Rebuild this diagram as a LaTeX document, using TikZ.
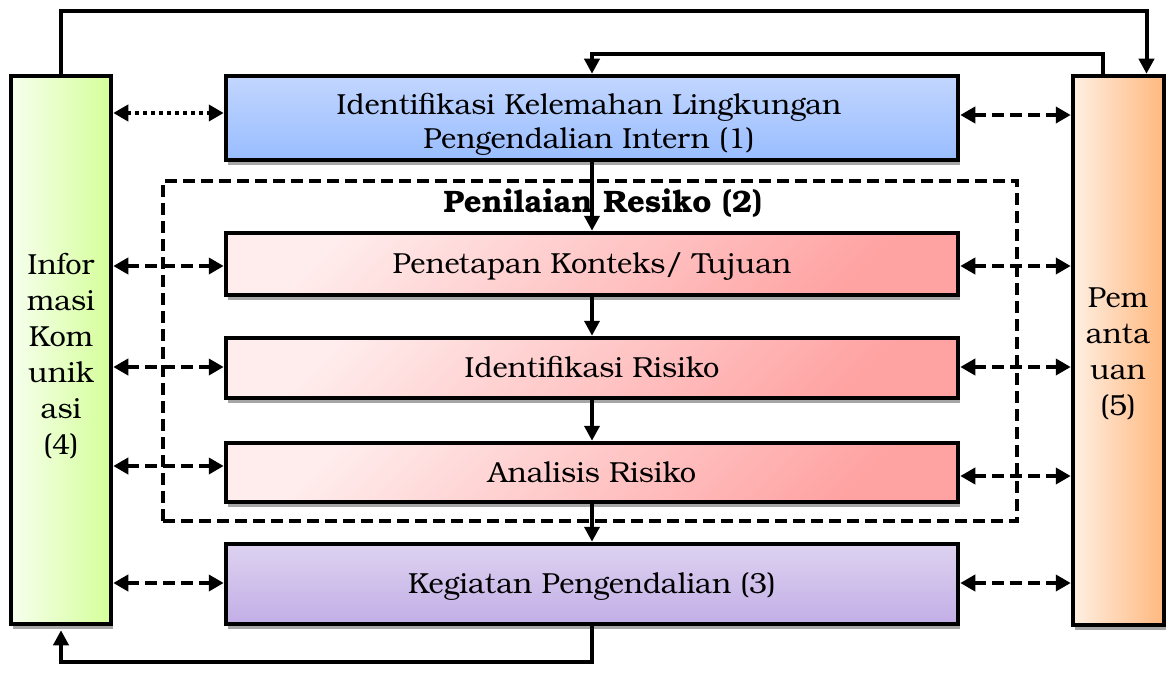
\documentclass[tikz,border=0pt]{standalone}
\usepackage{fontspec}
\setmainfont{TeX Gyre Bonum}
\usetikzlibrary{arrows.meta,shadows,calc}
\definecolor{blueT}{HTML}{C2D6FF}
\definecolor{blueB}{HTML}{99BDFF}
\definecolor{pinkL}{HTML}{FFECEC}
\definecolor{pinkD}{HTML}{FFA2A2}
\definecolor{purT}{HTML}{DDD2F0}
\definecolor{purB}{HTML}{C2AEE6}
\definecolor{grnL}{HTML}{F7FFEE}
\definecolor{grnR}{HTML}{D4FF99}
\definecolor{orL}{HTML}{FFEFE2}
\definecolor{orR}{HTML}{FFB87E}
\begin{document}
\begin{tikzpicture}[x=1pt,y=-1pt,
  shadowed/.style={drop shadow={shadow xshift=1.5pt,shadow yshift=-5pt,fill=black!35,opacity=1}},
  box/.style={shadowed,draw=black,line width=4.5pt,inner sep=0pt,minimum width=732pt,
    font=\fontsize{29}{34}\selectfont,text height=19.5pt,text depth=0pt},
  sidebox/.style={shadowed,draw=black,line width=4.5pt,inner sep=0pt},
  sidetext/.style={inner sep=0pt,align=center,font=\fontsize{29}{36}\selectfont},
  bluebox/.style={top color=blueT,bottom color=blueB},
  pinkbox/.style={top color=pinkL,bottom color=pinkD,shading angle=45},
  purbox/.style={top color=purT,bottom color=purB},
  grnbox/.style={left color=grnL,right color=grnR},
  orbox/.style={left color=orL,right color=orR},
  arr/.style={line width=4pt,-{Triangle[length=15pt,width=15pt]}},
  biarr/.style={line width=4pt,dash pattern=on 12pt off 6pt,
    {Triangle[length=15pt,width=16pt]}-{Triangle[length=15pt,width=16pt]}},
  dotarr/.style={line width=4pt,dash pattern=on 4pt off 4pt,
    {Triangle[length=15pt,width=16pt]}-{Triangle[length=15pt,width=16pt]}},
  dashframe/.style={draw=black,line width=3.5pt,dash pattern=on 12pt off 6pt,inner sep=0pt}
]
\useasboundingbox (0,0) rectangle (1167,690);
\fill[white] (0,0) rectangle (1167,690);

% dashed frame and its title
\node[dashframe,minimum width=854pt,minimum height=340pt] (D) at (590,351) {};
\node[inner sep=0pt,font=\bfseries\fontsize{31}{36}\selectfont] (T) at (603,203) {Penilaian Resiko (2)};

% central boxes
\node[box,bluebox,minimum height=84pt] (B) at (592,118) {};
\node[inner sep=0pt,align=center,font=\fontsize{29}{34}\selectfont] (Bt) at (589,124)
  {Identifikasi Kelemahan Lingkungan\\Pengendalian Intern (1)};
\node[box,pinkbox,minimum height=62pt] (P1) at (592,264) {Penetapan Konteks/ Tujuan};
\node[box,pinkbox,minimum height=60pt] (P2) at (592,368) {Identifikasi Risiko};
\node[box,pinkbox,minimum height=59pt] (P3) at (592,472.5) {Analisis Risiko};
\node[box,purbox,minimum height=80pt] (K) at (592,584) {Kegiatan Pengendalian (3)};

% side boxes
\node[sidebox,grnbox,minimum width=100pt,minimum height=548pt] (L) at (61,350) {};
\node[sidetext] (Lt) at (61,356) {Infor\\masi\\Kom\\unik\\asi\\(4)};
\node[sidebox,orbox,minimum width=91pt,minimum height=549pt] (R) at (1118.5,350.5) {};
\node[sidetext] (Rt) at (1118,354) {Pem\\anta\\uan\\(5)};

% vertical flow
\draw[arr] (B.south) -- (P1.north);
\draw[arr] (P1.south) -- (P2.north);
\draw[arr] (P2.south) -- (P3.north);
\draw[arr] (P3.south) -- (K.north);

% loops
\draw[arr] (L.north) -- ++(0,-63) -| ($(R.north)+(28,0)$);
\draw[arr] ($(R.north)+(-16,0)$) -- ++(0,-20) -| (B.north);
\draw[arr] (K.south) -- ++(0,36) -| ($(L.south)+(0,4)$);

% left connectors
\draw[dotarr] ($(L.east|-B.west)+(0,-5)$) -- ($(B.west)+(0,-5)$);
\draw[biarr] ($(L.east|-P1.west)+(0,2)$) -- ($(P1.west)+(0,2)$);
\draw[biarr] ($(L.east|-P2.west)+(0,-1)$) -- ($(P2.west)+(0,-1)$);
\draw[biarr] ($(L.east|-P3.west)+(0,-6.5)$) -- ($(P3.west)+(0,-6.5)$);
\draw[biarr] ($(L.east|-K.west)+(0,-1)$) -- ($(K.west)+(0,-1)$);

% right connectors
\draw[biarr] ($(B.east)+(0,-3)$) -- ($(R.west|-B.east)+(0,-3)$);
\draw[biarr] ($(P1.east)+(0,2)$) -- ($(R.west|-P1.east)+(0,2)$);
\draw[biarr] ($(P2.east)+(0,-1)$) -- ($(R.west|-P2.east)+(0,-1)$);
\draw[biarr] ($(P3.east)+(0,3.5)$) -- ($(R.west|-P3.east)+(0,3.5)$);
\draw[biarr] ($(K.east)+(0,-1)$) -- ($(R.west|-K.east)+(0,-1)$);
\end{tikzpicture}
\end{document}
